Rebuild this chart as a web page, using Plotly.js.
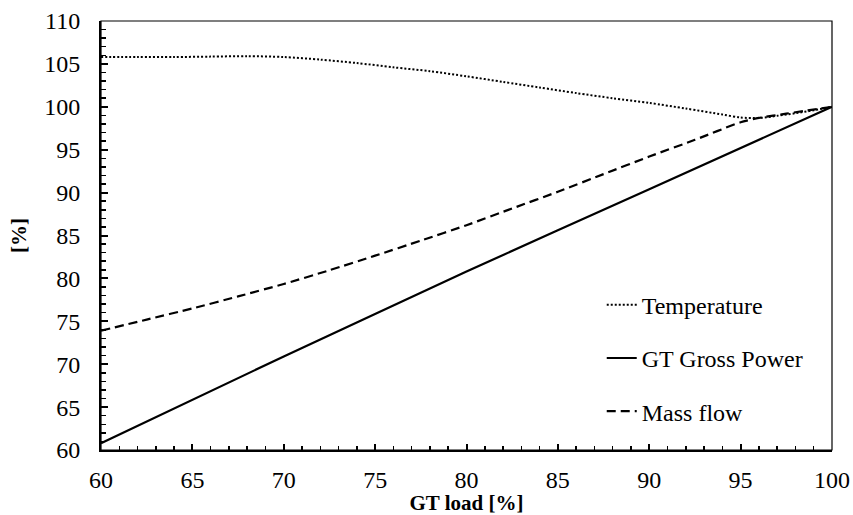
<!DOCTYPE html>
<html>
<head>
<meta charset="utf-8">
<script src="https://cdn.plot.ly/plotly-3.0.1.min.js"></script>
<style>html,body{margin:0;padding:0;background:#fff;}#chart{width:853px;height:515px;}</style>
</head>
<body>
<div id="chart"></div>
<script>
const tempX = [60, 62, 64, 66, 68, 70, 72, 74, 76, 78, 80, 82, 84, 86, 88, 90, 92, 94, 95, 96, 97, 98, 99, 100];
const tempY = [105.8, 105.8, 105.8, 105.85, 105.9, 105.8, 105.5, 105.1, 104.6, 104.15, 103.55, 102.9, 102.25, 101.6, 101.0, 100.45, 99.8, 99.1, 98.75, 98.7, 98.95, 99.25, 99.6, 100];
const powerX = [60, 70, 80, 90, 100];
const powerY = [60.8, 70.9, 80.8, 90.4, 100];
const massX = [60, 62.5, 65, 67.5, 70, 72.5, 75, 77.5, 80, 82.5, 85, 87.5, 90, 92.5, 95, 96, 97.5, 100];
const massY = [73.9, 75.2, 76.5, 77.9, 79.35, 80.95, 82.65, 84.4, 86.2, 88.15, 90.1, 92.15, 94.2, 96.15, 98.2, 98.7, 99.2, 100];
const names = ['Temperature', 'GT Gross Power', 'Mass flow'];

const font = {family: '"Liberation Serif", "Times New Roman", serif', size: 24, color: '#000'};

const traces = [
  {x: tempX, y: tempY, name: names[0], mode: 'lines', legendgroup: 'a',
   line: {color: '#000', width: 2, dash: '2px,2px', shape: 'spline', smoothing: 0.8}},
  {x: powerX, y: powerY, name: names[1], mode: 'lines', legendgroup: 'b',
   line: {color: '#000', width: 2.2, shape: 'spline', smoothing: 0.6}},
  {x: massX, y: massY, name: names[2], mode: 'lines', legendgroup: 'c',
   line: {color: '#000', width: 2.2, dash: '9px,5px', shape: 'spline', smoothing: 0.6}}
];

const layout = {
  width: 853, height: 515,
  margin: {l: 101, r: 21, t: 21, b: 65},
  paper_bgcolor: '#fff', plot_bgcolor: '#fff',
  font: font,
  showlegend: true,
  legend: {x: 0.685, y: 0.39, xanchor: 'left', yanchor: 'top', bgcolor: 'rgba(0,0,0,0)',
           font: font, tracegroupgap: 19, traceorder: 'grouped'},
  xaxis: {range: [60, 100], dtick: 5, tick0: 60, showgrid: false, zeroline: false,
          showline: true, linecolor: '#000', linewidth: 2,
          ticks: 'inside', ticklen: 6, tickwidth: 2, tickcolor: '#000',
          minor: {dtick: 1, ticks: 'inside', ticklen: 4, tickwidth: 1.5, tickcolor: '#000', showgrid: false},
          ticklabelstandoff: 7,
          tickfont: font,
          title: {text: '<b>GT load [%]</b>', font: {family: font.family, size: 21, color: '#000'}, standoff: 0}},
  yaxis: {range: [60, 110], dtick: 5, tick0: 60, showgrid: false, zeroline: false,
          showline: true, linecolor: '#000', linewidth: 2,
          ticks: 'inside', ticklen: 7, tickwidth: 2, tickcolor: '#000',
          minor: {dtick: 1, ticks: 'inside', ticklen: 5, tickwidth: 1.5, tickcolor: '#000', showgrid: false},
          ticklabelstandoff: 14,
          tickfont: font,
          title: {text: '<b>[%]</b>', font: {family: font.family, size: 21, color: '#000'}, standoff: 12}},
  shapes: [{type: 'rect', xref: 'paper', yref: 'paper', x0: 0, x1: 1, y0: 0, y1: 1,
            line: {color: '#000', width: 1.2}, fillcolor: 'rgba(0,0,0,0)'}]
};

Plotly.newPlot('chart', traces, layout, {displayModeBar: false, staticPlot: true});
</script>
</body>
</html>
